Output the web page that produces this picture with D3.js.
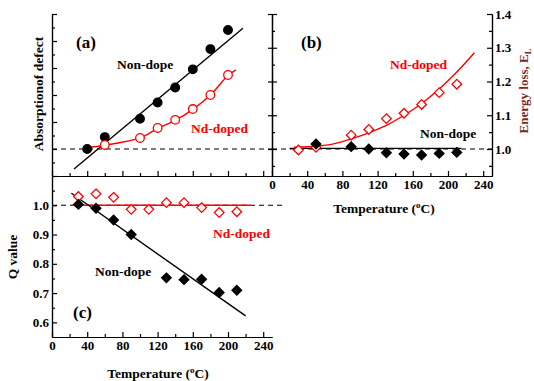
<!DOCTYPE html>
<html>
<head>
<meta charset="utf-8">
<script src="https://cdn.jsdelivr.net/npm/d3@7"></script>
<style>
  body { margin: 0; background: #fff; }
  svg, svg text, .tick text {
    font-family: "Liberation Serif", "Times New Roman", Times, "Nimbus Roman", "DejaVu Serif", serif !important;
  }
  .tick text { font-size: 13px; font-weight: bold; fill: #000; }
  .axis path, .axis line { stroke: #000; stroke-width: 1.2; }
</style>
</head>
<body>
<div id="chart"></div>
<script>
// (a) absorption of defect
var tempNonA = [40, 60, 100, 120, 140, 160, 180, 200];
var absNonDope = [1.0, 1.44, 2.12, 2.72, 3.28, 3.95, 4.70, 5.41];
var tempNdA = [60, 100, 120, 140, 160, 180, 200];
var absNdDoped = [1.15, 1.41, 1.78, 2.08, 2.48, 3.0, 3.74];
var fitAbsNonDope = [[25, 0.26], [217, 5.47]];
var fitAbsNdDoped = [[40, 1.05], [60, 1.14], [100, 1.41], [120, 1.76], [140, 2.06], [160, 2.47], [180, 3.0], [200, 3.72], [209, 3.93]];

// (b) energy loss
var tempNdB = [30, 50, 90, 110, 130, 150, 170, 190, 210];
var lossNdDoped = [0.997, 1.005, 1.041, 1.058, 1.090, 1.106, 1.132, 1.167, 1.192];
var tempNonB = [50, 90, 110, 130, 150, 170, 190, 210];
var lossNonDope = [1.015, 1.007, 1.0, 0.989, 0.985, 0.982, 0.987, 0.99];
var fitLossNdDoped = [[25, 1.005], [50, 1.008], [70, 1.015], [90, 1.03], [110, 1.048], [130, 1.07], [150, 1.10], [170, 1.135], [190, 1.178], [210, 1.228], [230, 1.285]];
var fitLossNonDope = [[20, 1.002], [215, 1.002]];

// (c) Q value
var tempNdC = [30, 50, 70, 90, 110, 130, 150, 170, 190, 210];
var qNdDoped = [1.030, 1.039, 1.027, 0.986, 0.986, 1.009, 1.009, 0.992, 0.975, 0.978];
var tempNonC = [30, 50, 70, 90, 130, 150, 170, 190, 210];
var qNonDope = [1.003, 0.99, 0.95, 0.90, 0.752, 0.746, 0.747, 0.702, 0.710];
var fitQNonDope = [[22, 1.041], [220, 0.622]];
var fitQNdDoped = [[22, 1.0], [226, 1.0]];

var tempTicks = [0, 40, 80, 120, 160, 200, 240];
var tempMinor = [20, 60, 100, 140, 180, 220];
var lossTicks = [1.0, 1.1, 1.2, 1.3, 1.4];
var qTicks = [0.6, 0.7, 0.8, 0.9, 1.0];

var RED = "#ff0000";
var FONT = "'Liberation Serif', 'Times New Roman', Times, 'DejaVu Serif', serif";

var svg = d3.select("#chart").append("svg")
  .attr("width", 534)
  .attr("height", 381)
  .attr("font-family", FONT);

// scales
var xA = d3.scaleLinear().domain([0, 250]).range([52, 272]);
var yA = d3.scaleLinear().domain([0, 6]).range([176, 14]);
var xB = d3.scaleLinear().domain([0, 250]).range([272, 492]);
var yB = d3.scaleLinear().domain([0.92, 1.4]).range([176, 14]);
var xC = d3.scaleLinear().domain([0, 250]).range([52, 272]);
var yC = d3.scaleLinear().domain([0.55, 1.1]).range([337, 176]);

function addAxis(axis, tx, ty, noLabels) {
  var g = svg.append("g")
    .attr("class", "axis")
    .attr("transform", `translate(${tx}, ${ty})`)
    .call(axis)
    .attr("font-family", FONT);
  if (noLabels) g.selectAll("text").remove();
  return g;
}

// ---- panel (a) axes
addAxis(d3.axisLeft(yA).tickValues(d3.range(0, 6.01, 1)).tickSize(-5).tickSizeOuter(0), 52, 0, true);
addAxis(d3.axisLeft(yA).tickValues(d3.range(0.5, 6, 1)).tickSize(-3).tickSizeOuter(0), 52, 0, true);
addAxis(d3.axisBottom(xA).tickValues(tempTicks).tickSize(-5).tickSizeOuter(0), 0, 176, true);
addAxis(d3.axisBottom(xA).tickValues(tempMinor).tickSize(-3).tickSizeOuter(0), 0, 176, true);

// ---- panel (b) axes
addAxis(d3.axisLeft(yB).tickValues(lossTicks).tickSize(-5).tickSizeOuter(0), 272, 0, true);
addAxis(d3.axisLeft(yB).tickValues(d3.range(0.95, 1.4, 0.1)).tickSize(-3).tickSizeOuter(0), 272, 0, true);
addAxis(d3.axisLeft(yB).tickValues(lossTicks).tickSize(4).tickSizeOuter(0), 272, 0, true);
addAxis(d3.axisRight(yB).tickValues(lossTicks).tickSize(-5).tickPadding(3).tickSizeOuter(0)
  .tickFormat(d3.format(".1f")), 492, 0);
addAxis(d3.axisRight(yB).tickValues(d3.range(0.95, 1.4, 0.1)).tickSize(-3).tickSizeOuter(0), 492, 0, true);
addAxis(d3.axisBottom(xB).tickValues(tempTicks).tickSize(-5).tickPadding(4).tickSizeOuter(0), 0, 176);
addAxis(d3.axisBottom(xB).tickValues(tempMinor).tickSize(-3).tickSizeOuter(0), 0, 176, true);

// ---- panel (c) axes
addAxis(d3.axisLeft(yC).tickValues(qTicks).tickSize(-5).tickPadding(3).tickSizeOuter(0)
  .tickFormat(d3.format(".1f")), 52, 0);
addAxis(d3.axisLeft(yC).tickValues(d3.range(0.65, 1.1, 0.1)).tickSize(-3).tickSizeOuter(0), 52, 0, true);
addAxis(d3.axisBottom(xC).tickValues(tempTicks).tickSize(-5).tickPadding(4).tickSizeOuter(0), 0, 337);
addAxis(d3.axisBottom(xC).tickValues(tempMinor).tickSize(-3).tickSizeOuter(0), 0, 337, true);

// dashed reference lines at 1.0
function dashed(x1, x2, y) {
  svg.append("line")
    .attr("x1", x1).attr("x2", x2)
    .attr("y1", y).attr("y2", y)
    .attr("stroke", "#000")
    .attr("stroke-width", 1.2)
    .attr("stroke-dasharray", "5,4");
}
dashed(xA(0), xA(250), yA(1));
dashed(xB(0), xB(250), yB(1));
dashed(xC(0), xC(265), yC(1));

function fitLine(pts, xs, ys, color, curve) {
  svg.append("path")
    .datum(pts)
    .attr("fill", "none")
    .attr("stroke", color)
    .attr("stroke-width", 1.4)
    .attr("d", d3.line()
      .x(d => xs(d[0]))
      .y(d => ys(d[1]))
      .curve(curve || d3.curveLinear));
}

function zip(a, b) {
  return a.map((v, i) => [v, b[i]]);
}

function circles(xv, yv, xs, ys, fill, stroke) {
  svg.append("g").selectAll("circle")
    .data(zip(xv, yv))
    .enter()
    .append("circle")
    .attr("cx", d => xs(d[0]))
    .attr("cy", d => ys(d[1]))
    .attr("r", 4.3)
    .attr("fill", fill)
    .attr("stroke", stroke)
    .attr("stroke-width", 1.3);
}

var diamond = "M0,-4.8L4.8,0L0,4.8L-4.8,0Z";
function diamonds(xv, yv, xs, ys, fill, stroke) {
  svg.append("g").selectAll("path")
    .data(zip(xv, yv))
    .enter()
    .append("path")
    .attr("d", diamond)
    .attr("transform", d => `translate(${xs(d[0])}, ${ys(d[1])})`)
    .attr("fill", fill)
    .attr("stroke", stroke)
    .attr("stroke-width", 1.3);
}

// panel (a)
fitLine(fitAbsNonDope, xA, yA, "#000");
fitLine(fitAbsNdDoped, xA, yA, RED, d3.curveCatmullRom);
circles(tempNonA, absNonDope, xA, yA, "#000", "#000");
circles(tempNdA, absNdDoped, xA, yA, "#fff", RED);

// panel (b)
fitLine(fitLossNonDope, xB, yB, "#000");
fitLine(fitLossNdDoped, xB, yB, RED, d3.curveCatmullRom);
diamonds(tempNdB, lossNdDoped, xB, yB, "#fff", RED);
diamonds(tempNonB, lossNonDope, xB, yB, "#000", "#000");

// panel (c)
fitLine(fitQNdDoped, xC, yC, RED);
fitLine(fitQNonDope, xC, yC, "#000");
diamonds(tempNdC, qNdDoped, xC, yC, "#fff", RED);
diamonds(tempNonC, qNonDope, xC, yC, "#000", "#000");

// text labels
function label(x, y, txt, size, color) {
  return svg.append("text")
    .attr("x", x).attr("y", y)
    .attr("font-size", size)
    .attr("font-weight", "bold")
    .attr("fill", color || "#000")
    .text(txt);
}
label(76, 48, "(a)", 17);
label(117, 69, "Non-dope", 13.5);
label(191, 133, "Nd-doped", 13.5, RED);
label(301, 48, "(b)", 17);
label(390, 69, "Nd-doped", 13.5, RED);
label(420, 138, "Non-dope", 13.5);
label(73, 318, "(c)", 17);
label(213, 238, "Nd-doped", 13.5, RED);
label(95, 276, "Non-dope", 13.5);

// axis titles
function tempTitle(cx, y) {
  var t = svg.append("text")
    .attr("x", cx).attr("y", y)
    .attr("text-anchor", "middle")
    .attr("font-size", 13.5)
    .attr("font-weight", "bold")
    .text("Temperature (");
  t.append("tspan").attr("font-size", 9).attr("dy", -5).text("o");
  t.append("tspan").attr("dy", 5).text("C)");
}
tempTitle(384, 213);
tempTitle(158, 378);

svg.append("text")
  .attr("transform", "translate(43, 94) rotate(-90)")
  .attr("text-anchor", "middle")
  .attr("font-size", 13.5)
  .attr("font-weight", "bold")
  .text("Absorptionof defect");

svg.append("text")
  .attr("transform", "translate(17, 257) rotate(-90)")
  .attr("text-anchor", "middle")
  .attr("font-size", 13.5)
  .attr("font-weight", "bold")
  .text("Q value");

var eLabel = svg.append("text")
  .attr("transform", "translate(528, 91) rotate(-90)")
  .attr("text-anchor", "middle")
  .attr("font-size", 13)
  .attr("font-weight", "bold")
  .attr("fill", "#7a2a1c")
  .text("Energy loss, E");
eLabel.append("tspan").attr("font-size", 8.5).attr("dy", 3).text("L");
</script>
</body>
</html>
